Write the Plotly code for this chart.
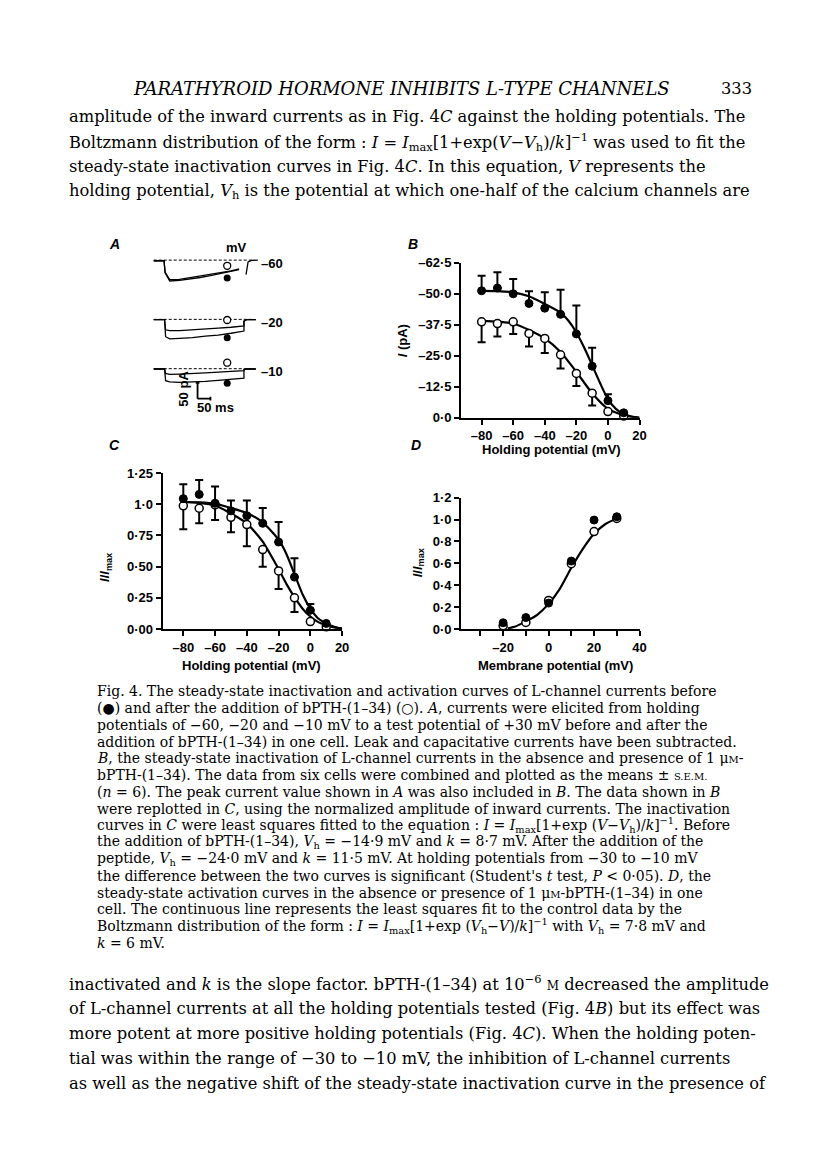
import plotly.graph_objects as go

W, H = 816, 1169

# ---------------- data ----------------
# B: steady-state inactivation, current (pA), control (filled) and bPTH-(1-34) (open)
HOLD_V = [-80, -70, -60, -50, -40, -30, -20, -10, 0, 10]
B_CTRL = [-51.2, -52.3, -50.0, -46.1, -44.2, -41.7, -33.8, -20.8, -6.9, -2.0]
B_CTRL_SEM = [6.1, 6.4, 6.0, 4.9, 6.4, 9.9, 11.5, 7.4, 2.6, 0]
B_PTH = [-38.7, -38.0, -38.7, -34.0, -32.0, -25.4, -17.9, -9.9, -2.5, -0.7]
B_PTH_SEM = [8.2, 5.2, 4.9, 5.3, 5.9, 5.5, 5.1, 5.0, 0, 0]
B_FIT_CTRL_V = [-80, -70, -60, -50, -40, -30, -25, -20, -15, -10, -5, 0, 5, 10, 15, 20]
B_FIT_CTRL = [-51.2, -51.1, -50.6, -49.0, -45.9, -42.4, -39.1, -34.4, -28.2, -21.2, -14.0, -7.5, -3.6, -1.5, -0.5, 0]
B_FIT_PTH_V = [-80, -70, -60, -50, -40, -30, -20, -10, 0, 10, 20]
B_FIT_PTH = [-39.1, -38.8, -38.0, -35.4, -32.0, -26.5, -18.5, -9.9, -3.6, -0.9, 0]

# C: normalised inactivation I/Imax
C_CTRL = [1.045, 1.079, 1.008, 0.947, 0.908, 0.847, 0.697, 0.416, 0.15, 0.045]
C_CTRL_SEM = [0.115, 0.116, 0.134, 0.083, 0.122, 0.123, 0.161, 0.152, 0.05, 0]
C_PTH = [0.987, 0.968, 0.995, 0.895, 0.837, 0.637, 0.466, 0.25, 0.06, 0.018]
C_PTH_SEM = [0.187, 0.121, 0.121, 0.119, 0.174, 0.137, 0.145, 0.113, 0, 0]
C_FIT_V = [-80, -70, -60, -50, -40, -30, -20, -15, -10, -5, 0, 5, 10, 15, 20]
C_FIT_CTRL = [1.018, 1.015, 1.005, 0.97, 0.93, 0.855, 0.716, 0.6, 0.44, 0.28, 0.163, 0.084, 0.045, 0.018, 0.0]
C_FIT_PTH = [1.018, 1.01, 0.99, 0.926, 0.847, 0.70, 0.48, 0.36, 0.255, 0.165, 0.10, 0.055, 0.03, 0.013, 0.005]

# D: activation I/Imax
D_V = [-20, -10, 0, 10, 20, 30]
D_CTRL = [0.057, 0.105, 0.237, 0.621, 0.996, 1.026]
D_PTH = [0.03, 0.06, 0.261, 0.597, 0.891, 1.011]
D_FIT_V = [-18, -15, -10, -5, 0, 5, 10, 15, 20, 25, 30]
D_FIT = [0.005, 0.02, 0.07, 0.13, 0.23, 0.37, 0.56, 0.73, 0.87, 0.96, 1.01]

# A: current records (ms, pA) at holding potentials -60, -20, -10 mV
A_T60 = [0, 40, 44, 62, 100, 140, 180, 220, 260, 300, 331]
A_CTRL60 = [-2, -2, -40, -66, -64, -60, -55, -49, -43, -37, -30]
A_PTH60 = [-2, -2, -38, -62, -61, -56, -51, -45, -40, -34, -28]
A_TAIL_T60 = [358, 362, 366, 380, 404]
A_TAIL60 = [-46, -25, -6, -1, 0]
A_T = [0, 42, 46, 62, 100, 150, 200, 250, 300, 350, 350, 360, 396]
A_CTRL20 = [-1, -1, -55, -62, -60, -58, -53, -50, -44, -37, -6, -1, -1]
A_PTH20 = [-1, -1, -33, -36, -36, -34, -31, -28, -25, -21, -6, -1, -1]
A_CTRL10 = [-1, -1, -38, -42, -43, -42, -40, -37, -34, -30, -3, -1, -1]
A_PTH10 = [-1, -1, -15, -18, -17, -16, -13, -11, -9, -6, -3, -1, -1]
A_MARK_T = 285
A_MARK_CTRL = [-57, -58, -46]
A_MARK_PTH = [-18, -2, 19]
HOLD_LABELS = ["–60", "–20", "–10"]
SCALE_PA, SCALE_MS = 50, 50

# ---------------- helpers ----------------
SANS = "Liberation Sans"
SERIF = "DejaVu Serif"


def px(x):
    return x / W


def py(y):
    return 1 - y / H


def dom_x(a, b):
    return [px(a), px(b)]


def dom_y(top, bottom):
    return [py(bottom), py(top)]


def axis_style(**kw):
    d = dict(showline=True, linecolor="black", linewidth=2, ticks="outside",
             ticklen=5, tickwidth=2, tickcolor="black", showgrid=False,
             zeroline=False, mirror=False,
             tickfont=dict(family=SANS, size=13, color="black", weight="bold"))
    d.update(kw)
    return d


fig = go.Figure()

filled = dict(symbol="circle", size=8, color="black", line=dict(color="black", width=1))
opened = dict(symbol="circle", size=8, color="white", line=dict(color="black", width=1.5))
fit_line = dict(color="black", width=2.2, shape="spline", smoothing=0.6)


def add_panel(xref, yref, xv, ctrl, ctrl_sem, pth, pth_sem, fit_vc, fit_c, fit_vp, fit_p, reverse=False):
    # error bars: control away from zero (upwards), bPTH towards zero (downwards)
    zeros_c, zeros_p = [0] * len(ctrl_sem), [0] * len(pth_sem)
    bar = dict(type="data", symmetric=False, color="black", thickness=2, width=4)
    if reverse:
        up_c = dict(bar, array=zeros_c, arrayminus=ctrl_sem)
        dn_p = dict(bar, array=pth_sem, arrayminus=zeros_p)
    else:
        up_c = dict(bar, array=ctrl_sem, arrayminus=zeros_c)
        dn_p = dict(bar, array=zeros_p, arrayminus=pth_sem)
    fig.add_trace(go.Scatter(x=xv, y=ctrl, mode="markers", marker=dict(size=0.1, color="black"),
                             error_y=up_c, xaxis=xref, yaxis=yref, cliponaxis=False))
    fig.add_trace(go.Scatter(x=xv, y=pth, mode="markers", marker=dict(size=0.1, color="black"),
                             error_y=dn_p, xaxis=xref, yaxis=yref, cliponaxis=False))
    fig.add_trace(go.Scatter(x=fit_vc, y=fit_c, mode="lines", line=fit_line,
                             xaxis=xref, yaxis=yref, cliponaxis=False))
    fig.add_trace(go.Scatter(x=fit_vp, y=fit_p, mode="lines", line=fit_line,
                             xaxis=xref, yaxis=yref, cliponaxis=False))
    fig.add_trace(go.Scatter(x=xv, y=pth, mode="markers", marker=opened,
                             xaxis=xref, yaxis=yref, cliponaxis=False))
    fig.add_trace(go.Scatter(x=xv, y=ctrl, mode="markers", marker=filled,
                             xaxis=xref, yaxis=yref, cliponaxis=False))


# B
add_panel("x", "y", HOLD_V, B_CTRL, B_CTRL_SEM, B_PTH, B_PTH_SEM,
          B_FIT_CTRL_V, B_FIT_CTRL, B_FIT_PTH_V, B_FIT_PTH, reverse=True)
# C
add_panel("x2", "y2", HOLD_V, C_CTRL, C_CTRL_SEM, C_PTH, C_PTH_SEM,
          C_FIT_V, C_FIT_CTRL, C_FIT_V, C_FIT_PTH)
# D (no error bars)
fig.add_trace(go.Scatter(x=D_FIT_V, y=D_FIT, mode="lines", line=fit_line,
                         xaxis="x3", yaxis="y3", cliponaxis=False))
fig.add_trace(go.Scatter(x=D_V, y=D_PTH, mode="markers", marker=opened,
                         xaxis="x3", yaxis="y3", cliponaxis=False))
fig.add_trace(go.Scatter(x=D_V, y=D_CTRL, mode="markers", marker=filled,
                         xaxis="x3", yaxis="y3", cliponaxis=False))

# A: three records, each in its own hidden axis of equal scale
PX_PER_MS, PX_PER_PA = 0.26, 0.32
A_LEFT, A_RIGHT, A_T0 = 140, 262, 147
A_ROWS = [(238, 276, 248.3), (290, 336, 308.3), (342, 400, 358.3)]  # top, bottom, baseline (px)
trace_sets = [
    (A_T60, A_CTRL60, A_PTH60),
    (A_T, A_CTRL20, A_PTH20),
    (A_T, A_CTRL10, A_PTH10),
]
a_line = dict(color="black", width=1.3)
for i, (t, c, p) in enumerate(trace_sets):
    xa, ya = f"x{4 + i}", f"y{4 + i}"
    fig.add_trace(go.Scatter(x=[0, 390], y=[0, 0], mode="lines",
                             line=dict(color="black", width=1, dash="3px,2px"),
                             xaxis=xa, yaxis=ya, cliponaxis=False))
    fig.add_trace(go.Scatter(x=t, y=c, mode="lines", line=a_line, xaxis=xa, yaxis=ya, cliponaxis=False))
    fig.add_trace(go.Scatter(x=t, y=p, mode="lines", line=a_line, xaxis=xa, yaxis=ya, cliponaxis=False))
    if i == 0:
        fig.add_trace(go.Scatter(x=A_TAIL_T60, y=A_TAIL60, mode="lines", line=a_line,
                                 xaxis=xa, yaxis=ya, cliponaxis=False))
    fig.add_trace(go.Scatter(x=[A_MARK_T], y=[A_MARK_PTH[i]], mode="markers",
                             marker=dict(symbol="circle", size=7, color="white",
                                         line=dict(color="black", width=1.3)),
                             xaxis=xa, yaxis=ya, cliponaxis=False))
    fig.add_trace(go.Scatter(x=[A_MARK_T], y=[A_MARK_CTRL[i]], mode="markers",
                             marker=dict(symbol="circle", size=7, color="black"),
                             xaxis=xa, yaxis=ya, cliponaxis=False))

# scale bar (50 pA vertical, 50 ms horizontal) in last record's axis
SB_T, SB_Y = 170, -95
fig.add_trace(go.Scatter(x=[SB_T - 7, SB_T + 7, None, SB_T, SB_T, None, SB_T, SB_T + SCALE_MS, None,
                            SB_T + SCALE_MS, SB_T + SCALE_MS],
                         y=[SB_Y + SCALE_PA, SB_Y + SCALE_PA, None, SB_Y + SCALE_PA, SB_Y, None, SB_Y, SB_Y, None,
                            SB_Y + 6, SB_Y - 6],
                         mode="lines", line=dict(color="black", width=1.8),
                         xaxis="x6", yaxis="y6", cliponaxis=False))

layout_axes = {}
layout_axes["xaxis"] = axis_style(domain=dom_x(457, 637), range=[-93, 20], anchor="y",
                                  tickvals=[-80, -60, -40, -20, 0, 20],
                                  ticktext=["–80", "–60", "–40", "–20", "0", "20"])
layout_axes["yaxis"] = axis_style(domain=dom_y(251, 408), range=[0, -62.5], anchor="x",
                                  tickvals=[0, -12.5, -25, -37.5, -50, -62.5],
                                  ticktext=["0·0", "–12·5", "–25·0", "–37·5", "–50·0", "–62·5"])
layout_axes["xaxis2"] = axis_style(domain=dom_x(156, 337), range=[-93, 20], anchor="y2",
                                   tickvals=[-80, -60, -40, -20, 0, 20],
                                   ticktext=["–80", "–60", "–40", "–20", "0", "20"])
layout_axes["yaxis2"] = axis_style(domain=dom_y(464, 622), range=[0, 1.25], anchor="x2",
                                   tickvals=[0, 0.25, 0.5, 0.75, 1.0, 1.25],
                                   ticktext=["0·00", "0·25", "0·50", "0·75", "1·0", "1·25"])
layout_axes["xaxis3"] = axis_style(domain=dom_x(457, 637), range=[-38.5, 40], anchor="y3",
                                   tickvals=[-30, -20, -10, 0, 10, 20, 30, 40],
                                   ticktext=["", "–20", "", "0", "", "20", "", "40"])
layout_axes["yaxis3"] = axis_style(domain=dom_y(489, 622), range=[0, 1.2], anchor="x3",
                                   tickvals=[0, 0.2, 0.4, 0.6, 0.8, 1.0, 1.2],
                                   ticktext=["0·0", "0·2", "0·4", "0·6", "0·8", "1·0", "1·2"])
for i, (top, bot, base) in enumerate(A_ROWS):
    n = 4 + i
    layout_axes[f"xaxis{n}"] = dict(visible=False, domain=dom_x(A_LEFT, A_RIGHT), anchor=f"y{n}",
                                    range=[(A_LEFT - A_T0) / PX_PER_MS, (A_RIGHT - A_T0) / PX_PER_MS])
    layout_axes[f"yaxis{n}"] = dict(visible=False, domain=dom_y(top, bot), anchor=f"x{n}",
                                    range=[-(bot - base) / PX_PER_PA, (base - top) / PX_PER_PA])

annotations = []


def note(text, x, y, size=13, family=SANS, xanchor="center", yanchor="middle", angle=0, weight="bold", italic=False):
    annotations.append(dict(text=text, x=px(x), y=py(y), xref="paper", yref="paper",
                            xanchor=xanchor, yanchor=yanchor, textangle=angle, showarrow=False,
                            font=dict(family=family, size=size, color="black", weight=weight,
                                      style="italic" if italic else "normal")))


# figure labels
note("A", 107, 232, size=14, italic=True)
note("mV", 230, 236, size=13)
note("B", 408, 232, size=14, italic=True)
note("C", 107, 436, size=14, italic=True)
note("D", 412, 436, size=14, italic=True)
for lab, (top, bot, base) in zip(HOLD_LABELS, A_ROWS):
    note(lab, 253, base + 3, xanchor="left")
note("50 pA", 177, 378, angle=-90)
note("50 ms", 189, 398, xanchor="left")
note("<i>I</i> (pA)", 398, 330, angle=-90)
note("Holding potential (mV)", 548, 440)
note("Holding potential (mV)", 246, 659)
note("<i>I</i>/<i>I</i><sub>max</sub>", 99, 560, angle=-90)
note("Membrane potential (mV)", 552, 659)
note("<i>I</i>/<i>I</i><sub>max</sub>", 414, 555, angle=-90)

# page text
TOP_Y = 74
note("<i>PARATHYROID HORMONE INHIBITS L-TYPE CHANNELS</i>", 124, TOP_Y, size=18, family=SERIF,
     xanchor="left", weight="normal")
note("333", 752, TOP_Y, size=16.3, family=SERIF, xanchor="right", weight="normal")

BODY_TOP = [
    "amplitude of the inward currents as in Fig. 4<i>C</i> against the holding potentials. The",
    "Boltzmann distribution of the form : <i>I</i> = <i>I</i><sub>max</sub>[1+exp(<i>V</i>−<i>V</i><sub>h</sub>)/<i>k</i>]<sup>−1</sup> was used to fit the",
    "steady-state inactivation curves in Fig. 4<i>C</i>. In this equation, <i>V</i> represents the",
    "holding potential, <i>V</i><sub>h</sub> is the potential at which one-half of the calcium channels are",
]
for i, line in enumerate(BODY_TOP):
    note(line, 60, TOP_Y + 29 + 25.3 * i, size=16.3, family=SERIF, xanchor="left", weight="normal")

MU_M = "μ<span style='font-size:10px'>M</span>"
CAPTION = [
    "Fig. 4. The steady-state inactivation and activation curves of L-channel currents before",
    "(●) and after the addition of bPTH-(1–34) (○). <i>A</i>, currents were elicited from holding",
    "potentials of −60, −20 and −10 mV to a test potential of +30 mV before and after the",
    "addition of bPTH-(1–34) in one cell. Leak and capacitative currents have been subtracted.",
    "<i>B</i>, the steady-state inactivation of L-channel currents in the absence and presence of 1 " + MU_M + "-",
    "bPTH-(1–34). The data from six cells were combined and plotted as the means ± <span style='font-size:10px'>S.E.M.</span>",
    "(<i>n</i> = 6). The peak current value shown in <i>A</i> was also included in <i>B</i>. The data shown in <i>B</i>",
    "were replotted in <i>C</i>, using the normalized amplitude of inward currents. The inactivation",
    "curves in <i>C</i> were least squares fitted to the equation : <i>I</i> = <i>I</i><sub>max</sub>[1+exp (<i>V</i>−<i>V</i><sub>h</sub>)/<i>k</i>]<sup>−1</sup>. Before",
    "the addition of bPTH-(1–34), <i>V</i><sub>h</sub> = −14·9 mV and <i>k</i> = 8·7 mV. After the addition of the",
    "peptide, <i>V</i><sub>h</sub> = −24·0 mV and <i>k</i> = 11·5 mV. At holding potentials from −30 to −10 mV",
    "the difference between the two curves is significant (Student's <i>t</i> test, <i>P</i> &lt; 0·05). <i>D</i>, the",
    "steady-state activation curves in the absence or presence of 1 " + MU_M + "-bPTH-(1–34) in one",
    "cell. The continuous line represents the least squares fit to the control data by the",
    "Boltzmann distribution of the form : <i>I</i> = <i>I</i><sub>max</sub>[1+exp (<i>V</i><sub>h</sub>−<i>V</i>)/<i>k</i>]<sup>−1</sup> with <i>V</i><sub>h</sub> = 7·8 mV and",
    "<i>k</i> = 6 mV.",
]
for i, line in enumerate(CAPTION):
    note(line, 88, 685 + 17 * i, size=14, family=SERIF, xanchor="left", weight="normal")

BODY_BOTTOM = [
    "inactivated and <i>k</i> is the slope factor. bPTH-(1–34) at 10<sup>−6</sup> <span style='font-size:12px'>M</span> decreased the amplitude",
    "of L-channel currents at all the holding potentials tested (Fig. 4<i>B</i>) but its effect was",
    "more potent at more positive holding potentials (Fig. 4<i>C</i>). When the holding poten-",
    "tial was within the range of −30 to −10 mV, the inhibition of L-channel currents",
    "as well as the negative shift of the steady-state inactivation curve in the presence of",
]
for i, line in enumerate(BODY_BOTTOM):
    note(line, 60, 981 + 25.3 * i, size=16.3, family=SERIF, xanchor="left", weight="normal")

fig.update_layout(
    width=W, height=H,
    margin=dict(l=0, r=0, t=0, b=0),
    paper_bgcolor="white", plot_bgcolor="rgba(0,0,0,0)",
    showlegend=False,
    annotations=annotations,
    **layout_axes,
)

fig.write_html("out.html")
